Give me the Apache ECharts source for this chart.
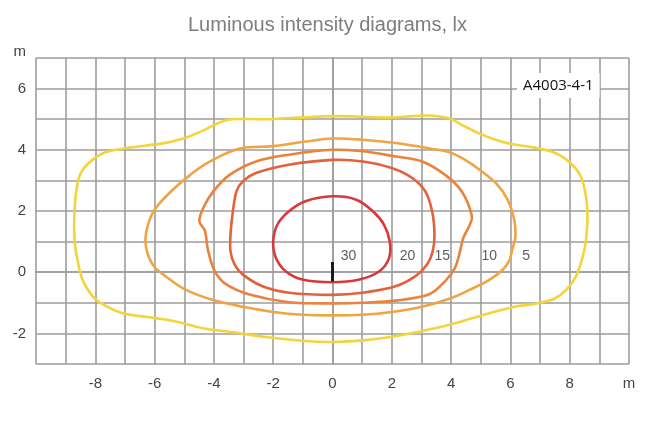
<!DOCTYPE html>
<html>
<head>
<meta charset="utf-8">
<script src="https://cdn.jsdelivr.net/npm/echarts@6/dist/echarts.min.js"></script>
<style>html,body{margin:0;padding:0;background:#fff}#c{width:655px;height:421px}</style>
</head>
<body>
<div id="c"></div>
<script>
// Isolux contours [x (m), y (m)], closed (last point = first point)
var lux5 = [[0,5.1],[0.8,5.09],[1.8,5.05],[2.7,5.1],[3.3,5.12],[3.94,5.02],[4.39,4.8],[4.96,4.53],[5.52,4.32],[6.08,4.18],[6.64,4.1],[7.43,3.93],[7.99,3.6],[8.38,3.12],[8.55,2.47],[8.6,1.82],[8.55,1.05],[8.44,0.51],[8.21,-0.14],[7.88,-0.58],[7.5,-0.86],[6.9,-1.02],[6.1,-1.14],[5.0,-1.42],[3.94,-1.72],[3.37,-1.85],[2.25,-2.07],[1.12,-2.22],[0,-2.28],[-1.12,-2.23],[-2.25,-2.12],[-3.37,-1.96],[-4.38,-1.83],[-5.28,-1.61],[-5.96,-1.5],[-7.08,-1.34],[-7.81,-1.01],[-8.09,-0.79],[-8.43,-0.25],[-8.6,0.4],[-8.7,1.05],[-8.7,2.03],[-8.6,2.9],[-8.43,3.34],[-8.03,3.72],[-7.64,3.93],[-6.85,4.07],[-5.73,4.21],[-5.06,4.36],[-4.38,4.62],[-3.9,4.85],[-3.4,5.0],[-2.25,5.0],[-1.12,5.05],[0,5.1]];
var lux10 = [[0,4.37],[1.02,4.33],[2.13,4.22],[3.24,4.05],[3.94,3.92],[4.39,3.72],[4.96,3.35],[5.52,2.9],[5.91,2.36],[6.13,1.71],[6.17,1.16],[6.06,0.73],[5.97,0.4],[5.74,0.08],[5.29,-0.25],[4.62,-0.58],[3.99,-0.85],[2.98,-1.14],[2.0,-1.3],[1.0,-1.39],[0,-1.41],[-1.0,-1.39],[-2.0,-1.3],[-2.98,-1.14],[-4.0,-0.92],[-4.94,-0.58],[-5.62,-0.14],[-6.01,0.18],[-6.24,0.62],[-6.31,1.05],[-6.24,1.49],[-6.01,2.03],[-5.51,2.58],[-4.8,3.18],[-4.13,3.62],[-3.13,4.04],[-2.02,4.12],[-0.91,4.27],[0,4.37]];
var lux15 = [[0,4.0],[1.02,3.95],[2.13,3.78],[3.02,3.62],[3.8,3.18],[4.36,2.64],[4.69,1.88],[4.63,1.55],[4.41,1.12],[4.3,0.68],[4.13,0.14],[3.8,-0.29],[3.24,-0.73],[2.2,-0.92],[1,-1.0],[0,-1.02],[-1.47,-0.98],[-2.8,-0.73],[-3.58,-0.4],[-3.97,0.03],[-4.19,0.68],[-4.3,1.34],[-4.49,1.66],[-4.36,2.1],[-4.02,2.64],[-3.47,3.18],[-2.58,3.62],[-1.47,3.84],[0,4.0]];
var lux20 = [[0,3.67],[1.02,3.62],[2.02,3.4],[2.69,3.08],[3.13,2.64],[3.36,1.99],[3.44,1.23],[3.38,0.68],[3.19,0.25],[2.8,-0.13],[2.13,-0.46],[1.02,-0.67],[0,-0.74],[-1.47,-0.67],[-2.36,-0.46],[-3.02,-0.08],[-3.3,0.25],[-3.44,0.68],[-3.44,1.23],[-3.36,1.99],[-3.24,2.64],[-3.02,2.97],[-2.58,3.24],[-1.47,3.51],[0,3.67]];
var lux30 = [[0,2.48],[0.8,2.37],[1.36,1.99],[1.74,1.55],[1.93,1.01],[1.91,0.47],[1.58,0.03],[0.91,-0.24],[0,-0.33],[-1.02,-0.24],[-1.58,0.03],[-1.91,0.47],[-2.0,1.01],[-1.86,1.55],[-1.47,1.99],[-0.91,2.32],[0,2.48]];
var luminaireMark = [[0,-0.3],[0,0.33]];
var levelLabels = ['30','20','15','10','5'];
var labelX = [0.54, 2.53, 3.7, 5.29, 6.53];
var labelY = [0.52, 0.52, 0.52, 0.52, 0.52];
var xTickLabels = {'-8':'-8','-6':'-6','-4':'-4','-2':'-2','0':'0','2':'2','4':'4','6':'6','8':'8','10':'m'};
var yTickLabels = {'-2':'-2','0':'0','2':'2','4':'4','6':'6','7':'m'};

var colors = ['#f3d43c','#efa445','#e9833d','#e2623c','#d9383a'];
var contours = [lux5, lux10, lux15, lux20, lux30];

// closed Catmull-Rom curve through the data points, mapped with api.coord
function makeRender(pts, color){
  return function(params, api){
    if (params.dataIndex !== 0) return null;
    var P = pts.slice(0, pts.length - 1).map(function(p){ return api.coord(p); });
    var n = P.length;
    var d = 'M' + P[0][0] + ' ' + P[0][1];
    for (var i = 0; i < n; i++){
      var p0 = P[(i - 1 + n) % n], p1 = P[i], p2 = P[(i + 1) % n], p3 = P[(i + 2) % n];
      var c1x = p1[0] + (p2[0] - p0[0]) / 6, c1y = p1[1] + (p2[1] - p0[1]) / 6;
      var c2x = p2[0] - (p3[0] - p1[0]) / 6, c2y = p2[1] - (p3[1] - p1[1]) / 6;
      d += ' C' + c1x + ' ' + c1y + ' ' + c2x + ' ' + c2y + ' ' + p2[0] + ' ' + p2[1];
    }
    d += ' Z';
    return {type:'path', shape:{pathData:d},
      style:{fill:'none', stroke:color, lineWidth:2.6, lineJoin:'round'}};
  };
}

var series = contours.map(function(d, i){
  return {type:'custom', data:d, encode:{x:0, y:1}, silent:true, z:2+i,
    renderItem: makeRender(d, colors[i])};
});
series.push({type:'line', data:luminaireMark, symbol:'none', lineStyle:{color:'#1a1a1a', width:3}, z:10});
series.push({type:'scatter', symbolSize:0, z:11,
  data: levelLabels.map(function(t,i){return [labelX[i], labelY[i], t];}),
  label:{show:true, position:'inside', formatter:function(p){return p.data[2];},
    fontFamily:'Liberation Sans', fontSize:14, color:'#333'}});

var chart = echarts.init(document.getElementById('c'), null, {renderer:'canvas'});
chart.setOption({
  animation:false,
  backgroundColor:'#fff',
  title:[{text:'Luminous intensity diagrams, lx', left:'center', top:10,
    textStyle:{fontFamily:'Liberation Sans', fontSize:20, fontWeight:'normal', color:'#7d7d7d'}},
    {text:'A4003-4-1', left:517, top:73, backgroundColor:'#fff', padding:[3,6,3,6],
    textStyle:{fontFamily:'Open Sans', fontSize:15, fontWeight:'normal', color:'#111', lineHeight:19}}],
  grid:{left:36, right:26, top:58, bottom:57},
  xAxis:{type:'value', min:-10, max:10, interval:1,
    axisLine:{show:true, lineStyle:{color:'#9d9d9d', width:1.6}},
    axisTick:{show:false},
    splitLine:{show:true, lineStyle:{color:'#9d9d9d', width:1.6}},
    axisLabel:{margin:12, fontFamily:'Liberation Sans', fontSize:15, color:'#444',
      formatter:function(v){var k=String(Math.round(v)); return xTickLabels[k]||'';}}},
  yAxis:{type:'value', min:-3, max:7, interval:1,
    axisLine:{show:true, lineStyle:{color:'#9d9d9d', width:1.6}},
    axisTick:{show:false},
    splitLine:{show:true, lineStyle:{color:'#9d9d9d', width:1.6}},
    axisLabel:{margin:10, fontFamily:'Liberation Sans', fontSize:15, color:'#444',
      formatter:function(v){var k=String(Math.round(v)); var t=yTickLabels[k]||''; return t==='m' ? '{m|m}' : t;},
      rich:{m:{fontFamily:'Liberation Sans', fontSize:15, color:'#444', padding:[0,0,12,0]}}}},
  series:series
});
</script>
</body>
</html>
